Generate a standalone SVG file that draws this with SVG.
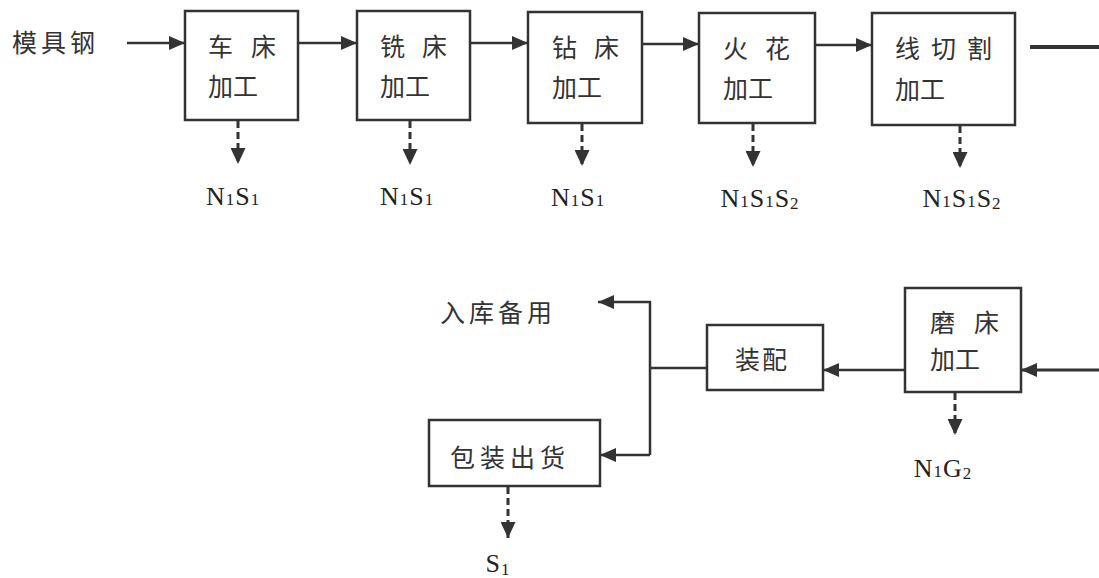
<svg xmlns="http://www.w3.org/2000/svg" width="1099" height="578" viewBox="0 0 1099 578">
<defs>
<marker id="ah" markerUnits="userSpaceOnUse" markerWidth="17" markerHeight="14" refX="16" refY="7" orient="auto">
<path d="M0,0 L16,7 L0,14 z" fill="#333"/>
</marker>
<marker id="ahs" markerUnits="userSpaceOnUse" markerWidth="17" markerHeight="15" refX="16" refY="7.5" orient="auto">
<path d="M0,0 L16,7.5 L0,15 z" fill="#333"/>
</marker>
<style>
.box{fill:#fff;stroke:#333;stroke-width:2.5}
.cn{font-family:"Noto Sans CJK SC","Noto Sans CJK JP",sans-serif;font-size:25px;fill:#333}
.lb{font-family:"Liberation Serif",serif;font-size:26px;fill:#222;letter-spacing:1px}
.sub{font-size:17px}
.ln{fill:none;stroke:#333;stroke-width:2.5}
.dl{fill:none;stroke:#333;stroke-width:3;stroke-dasharray:7 4}
</style>
</defs>
<rect width="1099" height="578" fill="#fff"/>

<g id="input"><text class="cn" x="12" y="52" letter-spacing="4">模具钢</text></g>

<g id="n1"><rect class="box" x="185" y="11" width="113" height="109"/>
<text class="cn" x="208 230 251" y="56">车 床</text><text class="cn" x="208" y="96">加工</text></g>
<g id="n2"><rect class="box" x="357" y="11" width="113" height="109"/>
<text class="cn" x="380 402 422" y="56">铣 床</text><text class="cn" x="380" y="96">加工</text></g>
<g id="n3"><rect class="box" x="528" y="12" width="114" height="111"/>
<text class="cn" x="552 574 594" y="57">钻 床</text><text class="cn" x="552" y="97">加工</text></g>
<g id="n4"><rect class="box" x="699" y="13" width="116" height="110"/>
<text class="cn" x="723 745 765" y="58">火 花</text><text class="cn" x="723" y="98">加工</text></g>
<g id="n5"><rect class="box" x="872" y="13" width="143" height="112"/>
<text class="cn" x="895 920 931 956 967" y="58">线 切 割</text><text class="cn" x="895" y="99">加工</text></g>

<g id="n6"><rect class="box" x="905" y="288" width="116" height="104"/>
<text class="cn" x="930 952 974" y="332">磨 床</text><text class="cn" x="930" y="369">加工</text></g>
<g id="n7"><rect class="box" x="707" y="325" width="116" height="65"/>
<text class="cn" x="735" y="369" letter-spacing="2">装配</text></g>
<g id="n8"><rect class="box" x="429" y="420" width="171" height="66"/>
<text class="cn" x="450" y="467" letter-spacing="5">包装出货</text></g>
<g id="store"><text class="cn" x="440" y="322" letter-spacing="4">入库备用</text></g>

<g id="labels">
<text class="lb" x="233" y="205" text-anchor="middle">N<tspan class="sub">1</tspan>S<tspan class="sub">1</tspan></text>
<text class="lb" x="407" y="205" text-anchor="middle">N<tspan class="sub">1</tspan>S<tspan class="sub">1</tspan></text>
<text class="lb" x="578" y="206" text-anchor="middle">N<tspan class="sub">1</tspan>S<tspan class="sub">1</tspan></text>
<text class="lb" x="760" y="207" text-anchor="middle">N<tspan class="sub">1</tspan>S<tspan class="sub">1</tspan>S<tspan class="sub" dy="2">2</tspan></text>
<text class="lb" x="962" y="207" text-anchor="middle">N<tspan class="sub">1</tspan>S<tspan class="sub">1</tspan>S<tspan class="sub" dy="2">2</tspan></text>
<text class="lb" x="943" y="477" text-anchor="middle">N<tspan class="sub">1</tspan>G<tspan class="sub" dy="2">2</tspan></text>
<text class="lb" x="498" y="572" text-anchor="middle">S<tspan class="sub" dy="3">1</tspan></text>
</g>

<g id="connectors">
<line class="ln" x1="127" y1="43" x2="185" y2="43" marker-end="url(#ah)"/>
<line class="ln" x1="298" y1="43" x2="357" y2="43" marker-end="url(#ah)"/>
<line class="ln" x1="470" y1="43" x2="528" y2="43" marker-end="url(#ah)"/>
<line class="ln" x1="642" y1="44" x2="699" y2="44" marker-end="url(#ah)"/>
<line class="ln" x1="815" y1="45" x2="872" y2="45" marker-end="url(#ah)"/>
<line x1="1030" y1="47" x2="1099" y2="47" stroke="#333" stroke-width="4"/>
<line x1="1099" y1="370" x2="1021" y2="370" stroke="#333" stroke-width="3" marker-end="url(#ah)"/>
<line class="ln" x1="905" y1="370" x2="823" y2="370" marker-end="url(#ah)"/>
<polyline class="ln" points="707,368 650,368"/>
<polyline class="ln" points="650,455 650,302 598,302" marker-end="url(#ah)"/>
<line class="ln" x1="650" y1="455" x2="600" y2="455" marker-end="url(#ah)"/>
<line class="dl" x1="238" y1="121" x2="238" y2="164" marker-end="url(#ahs)"/>
<line class="dl" x1="410" y1="121" x2="410" y2="165" marker-end="url(#ahs)"/>
<line class="dl" x1="582" y1="124" x2="582" y2="166" marker-end="url(#ahs)"/>
<line class="dl" x1="753" y1="124" x2="753" y2="167" marker-end="url(#ahs)"/>
<line class="dl" x1="960" y1="126" x2="960" y2="168" marker-end="url(#ahs)"/>
<line class="dl" x1="955" y1="393" x2="955" y2="435" marker-end="url(#ahs)"/>
<line class="dl" x1="508" y1="487" x2="508" y2="538" marker-end="url(#ahs)"/>
</g>
</svg>
